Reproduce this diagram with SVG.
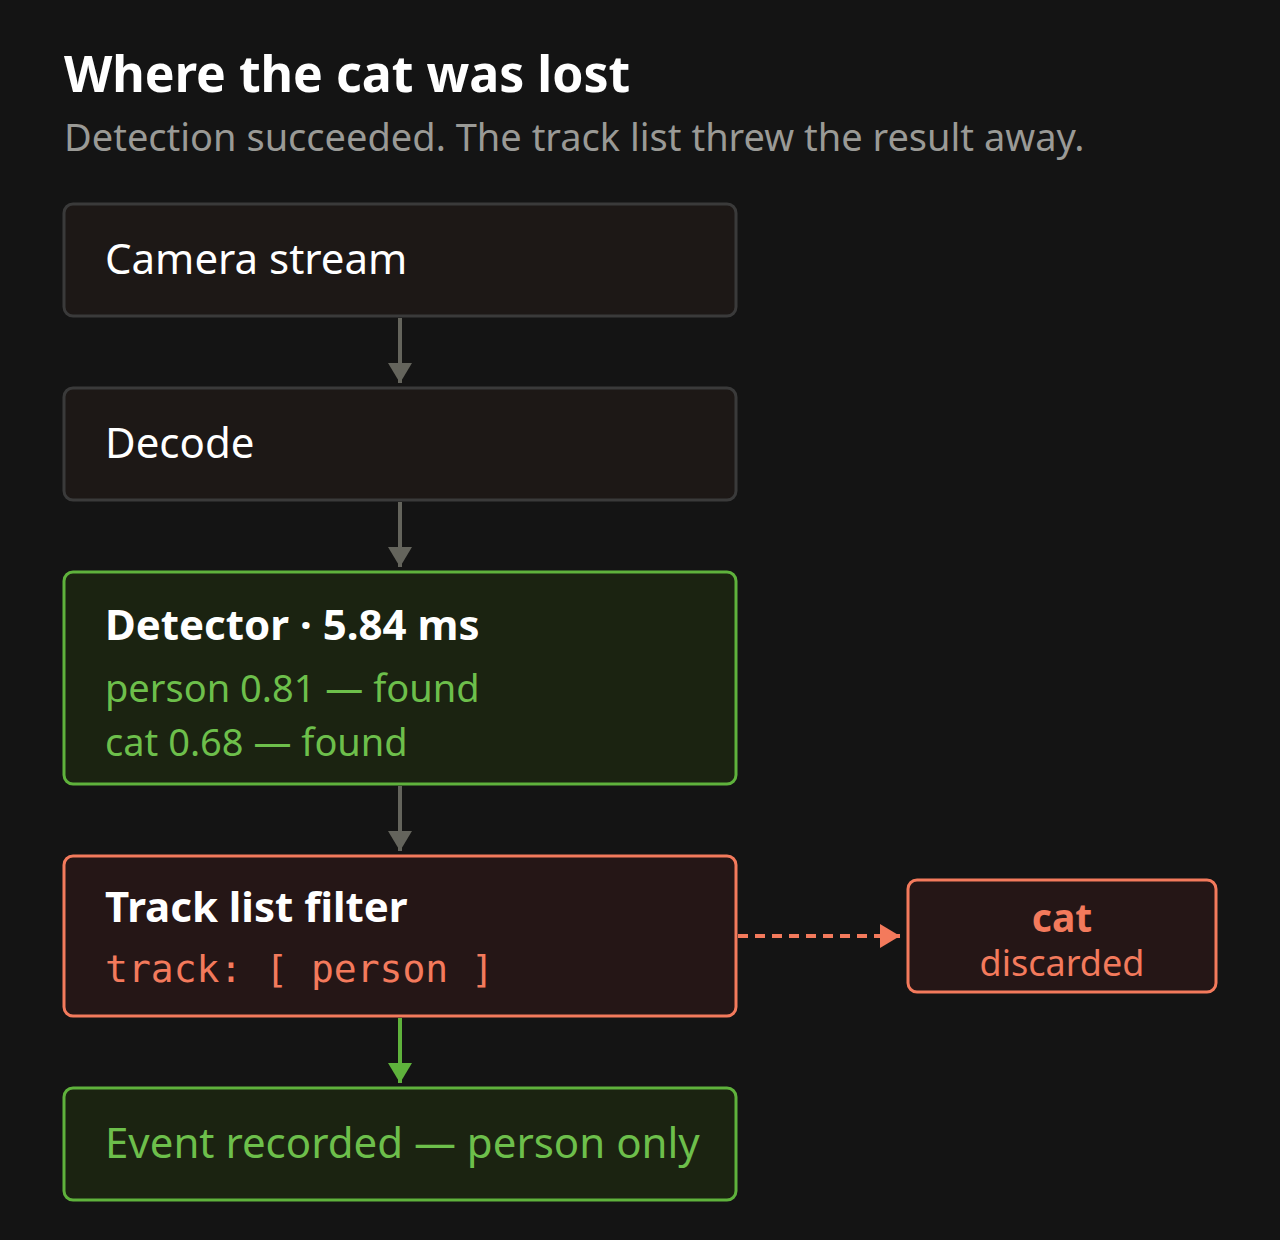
<svg xmlns="http://www.w3.org/2000/svg" width="1280" height="1240" viewBox="0 0 1280 1240">
<defs>
<style>
.t{font-family:"Noto Sans","Open Sans","Liberation Sans",sans-serif}
.box{stroke-width:3}
.n{fill:#1d1816;stroke:#3a3a3a}
.g{fill:#1b2311;stroke:#5fb23c}
.r{fill:#251616;stroke:#f37a5c}
.w{fill:#ffffff}
.gt{fill:#6dbf4b}
.rt{fill:#f37a5c}
</style>
<marker id="ag" viewBox="0 0 20 24" refX="20" refY="12" markerWidth="20" markerHeight="24" markerUnits="userSpaceOnUse" orient="auto"><path d="M0,0 L20,12 L0,24 Z" fill="#64645c"/></marker>
<marker id="agr" viewBox="0 0 20 24" refX="20" refY="12" markerWidth="20" markerHeight="24" markerUnits="userSpaceOnUse" orient="auto"><path d="M0,0 L20,12 L0,24 Z" fill="#5fb23c"/></marker>
<marker id="ar" viewBox="0 0 20 24" refX="20" refY="12" markerWidth="20" markerHeight="24" markerUnits="userSpaceOnUse" orient="auto"><path d="M0,0 L20,12 L0,24 Z" fill="#f37a5c"/></marker>
</defs>
<rect width="1280" height="1240" fill="#141414"/>
<text class="t w" x="64" y="92" font-size="50" font-weight="700">Where the cat was lost</text>
<text class="t" x="64" y="151" font-size="38" fill="#9a9a96">Detection succeeded. The track list threw the result away.</text>
<g id="connectors" fill="none" stroke-width="4">
<line x1="400" y1="318" x2="400" y2="383" stroke="#64645c" marker-end="url(#ag)"/>
<line x1="400" y1="502" x2="400" y2="567" stroke="#64645c" marker-end="url(#ag)"/>
<line x1="400" y1="786" x2="400" y2="851" stroke="#64645c" marker-end="url(#ag)"/>
<line x1="400" y1="1018" x2="400" y2="1083" stroke="#5fb23c" marker-end="url(#agr)"/>
<line x1="738" y1="936" x2="900" y2="936" stroke="#f37a5c" stroke-dasharray="10 7" marker-end="url(#ar)"/>
</g>
<g id="camera"><rect class="box n" x="64" y="204" width="672" height="112" rx="9"/><text class="t w" x="105" y="274" font-size="42">Camera stream</text></g>
<g id="decode"><rect class="box n" x="64" y="388" width="672" height="112" rx="9"/><text class="t w" x="105" y="458" font-size="42">Decode</text></g>
<g id="detector"><rect class="box g" x="64" y="572" width="672" height="212" rx="9"/>
<text class="t w" x="105" y="640" font-size="42" font-weight="700">Detector · 5.84 ms</text>
<text class="t gt" x="105" y="702" font-size="38">person 0.81 — found</text>
<text class="t gt" x="105" y="756" font-size="38">cat 0.68 — found</text></g>
<g id="filter"><rect class="box r" x="64" y="856" width="672" height="160" rx="9"/>
<text class="t w" x="105" y="922" font-size="42" font-weight="700">Track list filter</text>
<text x="105" y="982" font-size="38" class="rt" font-family="'DejaVu Sans Mono','Liberation Mono',monospace">track: [ person ]</text></g>
<g id="discarded"><rect class="box r" x="908" y="880" width="308" height="112" rx="9"/>
<text class="t rt" x="1062" y="932" font-size="39" font-weight="700" text-anchor="middle">cat</text>
<text class="t rt" x="1062" y="976" font-size="36" text-anchor="middle">discarded</text></g>
<g id="event"><rect class="box g" x="64" y="1088" width="672" height="112" rx="9"/><text class="t gt" x="105" y="1158" font-size="42">Event recorded — person only</text></g>
</svg>
